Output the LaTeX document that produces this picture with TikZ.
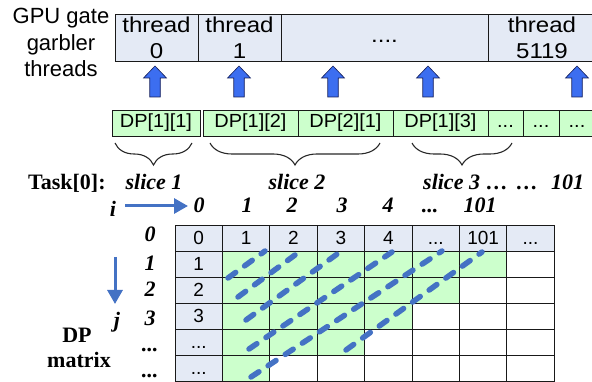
\documentclass[tikz,border=0pt]{standalone}
\usepackage{fontspec}
\setmainfont{Liberation Serif}
\setsansfont{Liberation Sans}
\newfontfamily\widesans[FakeStretch=1.12]{Liberation Sans}
\newfontfamily\midsans[FakeStretch=1.05]{Liberation Sans}
\usetikzlibrary{arrows.meta,decorations.pathreplacing}

\definecolor{cellblue}{RGB}{228,234,245}
\definecolor{cellgreen}{RGB}{204,255,204}
\definecolor{linkblue}{RGB}{68,114,196}
\definecolor{arrowfill}{RGB}{60,110,240}
\definecolor{arrowedge}{RGB}{20,30,90}
\definecolor{gridline}{RGB}{25,25,25}
\definecolor{bracegray}{RGB}{40,40,40}

% three periods, kept out of \foreach lists where "..." means a range
\newcommand{\threedots}{...}

\begin{document}
\begin{tikzpicture}[x=1pt,y=-1pt,
  sanstext/.style={font=\sffamily\fontsize{22}{26.5}\selectfont},
  threadbox/.style={draw=gridline, line width=0.8pt, fill=cellblue, inner sep=0pt,
    minimum height=47pt, font=\widesans\fontsize{21.5}{26}\selectfont},
  threadcell/.style={threadbox, align=center},
  dpcell/.style={draw=gridline, line width=0.8pt, fill=cellgreen, inner sep=0pt,
    minimum height=26pt, text height=13.5pt, text depth=4pt,
    font=\midsans\fontsize{19}{22}\selectfont},
  mcell/.style={draw=gridline, line width=0.8pt, inner sep=0pt,
    minimum width=47.4pt, minimum height=26pt, text height=13.5pt, text depth=0pt,
    font=\sffamily\fontsize{19}{21}\selectfont},
  serlabel/.style={font=\bfseries\itshape\fontsize{22}{24}\selectfont, inner sep=0pt, anchor=base},
  serbold/.style={font=\bfseries\fontsize{22}{24}\selectfont, inner sep=0pt, anchor=base},
  flowarrow/.style={draw=linkblue, line width=3pt,
    -{Triangle[length=14pt,width=15pt]}},
  diagdash/.style={draw=linkblue, line width=5.5pt, line cap=round,
    dash pattern=on 9.5pt off 11pt},
  slicebrace/.style={draw=bracegray, line width=1.1pt,
    decorate, decoration={brace, mirror, amplitude=22pt}},
  blockarrow/.style={fill=arrowfill, draw=arrowedge, line width=0.6pt, line join=miter}
]
\useasboundingbox (0,0) rectangle (592,382);

% ---- garbler threads ----
\node[sanstext, align=center, inner sep=0pt] (gpu) at (61,42.5) {GPU gate\\garbler\\threads};
\node[threadcell, minimum width=83pt]  (th0) at (156.5,37.5) {thread\\0};
\node[threadcell, minimum width=83pt]  (th1) at (239.5,37.5) {thread\\1};
\node[threadbox, minimum width=207pt, text height=11pt, text depth=0pt] (thd) at (384.5,37.5) {....};
\node[threadcell, minimum width=108pt] (thn) at (542,37.5) {thread\\5119};

% ---- upward block arrows ----
\foreach \ax in {155,239,333,428,577}{
  \path[blockarrow] (\ax-5.25,97) -- (\ax-5.25,78) -- (\ax-11.5,78) -- (\ax,66)
    -- (\ax+11.5,78) -- (\ax+5.25,78) -- (\ax+5.25,97) -- cycle;
}

% ---- DP work queue ----
\node[dpcell, minimum width=88pt] (dp1) at (156,123)   {DP[1][1]};
\node[dpcell, minimum width=95pt] (dp2) at (250.5,123) {DP[1][2]};
\node[dpcell, minimum width=95pt] (dp3) at (345.5,123) {DP[2][1]};
\node[dpcell, minimum width=95pt] (dp4) at (440.5,123) {DP[1][3]};
\node[dpcell, minimum width=35pt] (dp5) at (505.5,123) {...};
\node[dpcell, minimum width=36pt] (dp6) at (541,123)   {...};
\node[dpcell, minimum width=36pt] (dp7) at (577,123)   {...};

% ---- slice braces ----
\draw[slicebrace] (115,143) -- (192,143);
\draw[slicebrace] (210,143) -- (380,143);
\draw[slicebrace] (412,143) -- (512,143);

\node[serbold, anchor=base west] (task) at (28,190) {Task[0]:};
\node[serlabel] (sl1) at (154,190) {slice 1};
\node[serlabel] (sl2) at (297,190) {slice 2};
\node[serlabel, anchor=base west] (sl3) at (423,190)
  {slice 3\hspace{6pt}…\hspace{8pt}…\hspace{13pt}101};

% ---- column index i ----
\node[serlabel] (ilab) at (113,217) {i};
\coordinate (iS) at (125,206);
\coordinate (iE) at (188,206);
\draw[flowarrow] (iS) -- (iE);
\foreach \cx/\ct [count=\k] in {199/0,247/1,292/2,342/3,388/4,430/\threedots,480/101}
  \node[serlabel] (ci\k) at (\cx,213) {\ct};

% ---- row index j ----
\coordinate (jS) at (115,257);
\coordinate (jE) at (115,304);
\draw[flowarrow] (jS) -- (jE);
\node[serlabel] (jlab) at (117,327) {j};
\foreach \ry/\rt [count=\k] in {242/0,271/1,297/2,325/3,351/\threedots,377/\threedots}
  \node[serlabel] (rj\k) at (150,\ry) {\rt};

\node[serbold] (dplab) at (77,342) {DP};
\node[serbold] (mxlab) at (79,367) {matrix};

% ---- DP matrix fills ----
\fill[cellblue] (175,225) rectangle (554.2,251);
\fill[cellblue] (175,251) rectangle (222.4,381);
\foreach \r/\g in {1/6,2/5,3/4,4/3,5/1}
  \fill[cellgreen] (222.4,{225+26*\r}) rectangle ({175+47.4*(\g+1)},{251+26*\r});

% ---- DP matrix grid ----
\foreach \c/\t in {0/0,1/1,2/2,3/3,4/4,5/\threedots,6/101,7/\threedots}
  \node[mcell] (m-0-\c) at ({198.7+47.4*\c},238) {\t};
\foreach \r/\t in {1/1,2/2,3/3,4/\threedots,5/\threedots}
  \node[mcell] (m-\r-0) at (198.7,{238+26*\r}) {\t};
\foreach \r in {1,...,5}
  \foreach \c in {1,...,7}
    \node[mcell] (m-\r-\c) at ({198.7+47.4*\c},{238+26*\r}) {};

% ---- anti-diagonal evaluation order ----
\draw[diagdash] (228,278) -- (265,251);
\draw[diagdash] (238,297) -- (295,255);
\draw[diagdash] (246,320) -- (340,252);
\draw[diagdash] (249,349) -- (392,252);
\draw[diagdash] (251,377) -- (442,251);
\draw[diagdash] (346,350) -- (482,252);
\end{tikzpicture}
\end{document}
